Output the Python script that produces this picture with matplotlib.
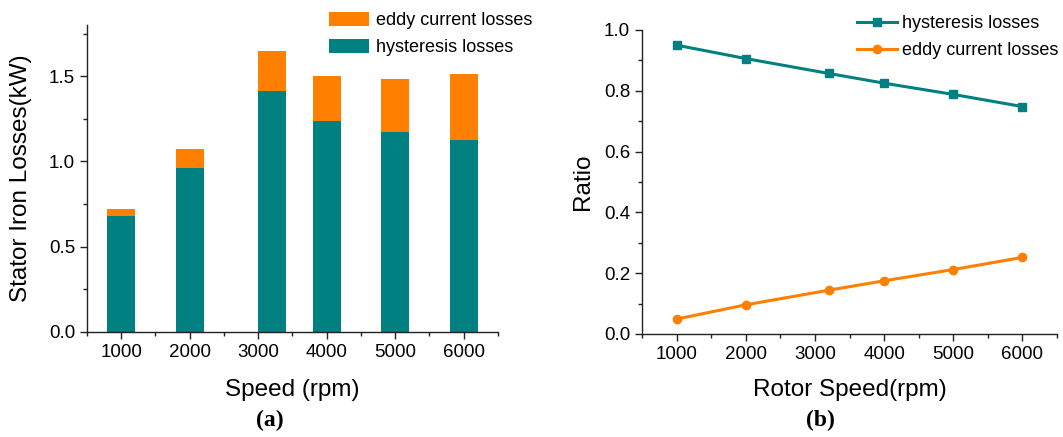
import matplotlib.pyplot as plt
from matplotlib.ticker import MultipleLocator

# speeds (rpm)
speeds = [1000, 2000, 3200, 4000, 5000, 6000]

# stator iron losses (kW)
hysteresis_kw = [0.681, 0.963, 1.412, 1.237, 1.171, 1.128]
eddy_kw = [0.039, 0.109, 0.236, 0.265, 0.315, 0.384]

# share of total losses
hysteresis_ratio = [0.950, 0.906, 0.857, 0.825, 0.788, 0.748]
eddy_ratio = [0.049, 0.096, 0.144, 0.175, 0.212, 0.252]

xticks = [1000, 2000, 3000, 4000, 5000, 6000]

TEAL = '#008080'
ORANGE = '#ff8000'

plt.rcParams['font.family'] = ['Liberation Sans', 'DejaVu Sans']


def style_axis(ax):
    for side in ('top', 'right'):
        ax.spines[side].set_visible(False)
    for side in ('left', 'bottom'):
        ax.spines[side].set_linewidth(1.0)
        ax.spines[side].set_color('#222222')
    ax.tick_params(which='major', direction='out', length=5, width=1.0,
                   labelsize=13.5, colors='#222222', labelcolor='black')
    ax.tick_params(which='minor', direction='out', length=3, width=1.0,
                   colors='#222222')
    ax.set_xlim(500, 6500)
    ax.set_xticks(xticks)
    ax.xaxis.set_minor_locator(MultipleLocator(500))


fig = plt.figure(figsize=(10.63, 4.37), dpi=100)

# (a) stacked bars
ax1 = fig.add_axes([0.0818, 0.2403, 0.3866, 0.7025])
ax1.bar(speeds, hysteresis_kw, width=410, color=TEAL,
        label='hysteresis losses')
ax1.bar(speeds, eddy_kw, width=410, bottom=hysteresis_kw, color=ORANGE,
        label='eddy current losses')
style_axis(ax1)
ax1.set_ylim(0, 1.8)
ax1.set_yticks([0.0, 0.5, 1.0, 1.5])
ax1.yaxis.set_minor_locator(MultipleLocator(0.25))
ax1.set_xlabel('Speed (rpm)', fontsize=17.5, labelpad=13)
ax1.set_ylabel('Stator Iron Losses(kW)', fontsize=17.5, labelpad=12)
h, l = ax1.get_legend_handles_labels()
ax1.legend(h[::-1], l[::-1], loc='upper left',
           bbox_to_anchor=(329 / 1063, 1 - 12 / 437),
           bbox_transform=fig.transFigure, frameon=False, fontsize=13,
           handlelength=2.2, handleheight=0.8, handletextpad=0.4,
           labelspacing=0.55, borderaxespad=0, borderpad=0)
fig.text(270 / 1063, 1 - 420 / 437, '(a)', ha='center', va='center',
         fontsize=17, fontweight='bold', family='Liberation Serif')

# (b) loss ratio
ax2 = fig.add_axes([0.604, 0.2357, 0.3904, 0.6957])
ax2.plot(speeds, hysteresis_ratio, color=TEAL, lw=2.2, marker='s',
         markersize=5.5, label='hysteresis losses')
ax2.plot(speeds, eddy_ratio, color=ORANGE, lw=2.2, marker='o',
         markersize=6, label='eddy current losses')
style_axis(ax2)
ax2.set_ylim(0, 1.0)
ax2.set_yticks([0.0, 0.2, 0.4, 0.6, 0.8, 1.0])
ax2.yaxis.set_minor_locator(MultipleLocator(0.1))
ax2.set_xlabel('Rotor Speed(rpm)', fontsize=17.5, labelpad=12)
ax2.set_ylabel('Ratio', fontsize=17.5, labelpad=7)
ax2.legend(loc='upper left', bbox_to_anchor=(857 / 1063, 1 - 15 / 437),
           bbox_transform=fig.transFigure, frameon=False, fontsize=13,
           handlelength=2.2, handletextpad=0.3, labelspacing=0.55,
           borderaxespad=0, borderpad=0)
fig.text(820 / 1063, 1 - 420 / 437, '(b)', ha='center', va='center',
         fontsize=17, fontweight='bold', family='Liberation Serif')

fig.savefig('out.png', dpi=100)
